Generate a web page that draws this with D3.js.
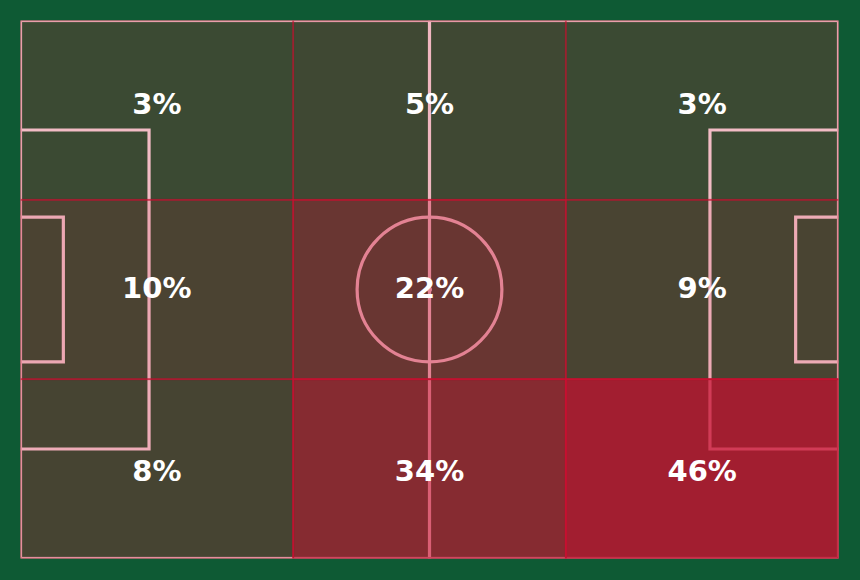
<!DOCTYPE html>
<html>
<head>
<meta charset="utf-8">
<script src="https://cdn.jsdelivr.net/npm/d3@7"></script>
<style>
  html, body { margin: 0; padding: 0; background: #0e5a34; }
  svg { display: block; }
</style>
</head>
<body>
<div id="chart"></div>
<script>
// pitch in metres (uefa 105 x 68), 3 x 3 zones
const pitchLength = 105, pitchWidth = 68
const thirds = ["Defensive third", "Middle third", "Final third"]
const channels = ["Top", "Centre", "Bottom"]
const topChannel = [3, 5, 3]
const centreChannel = [10, 22, 9]
const bottomChannel = [8, 34, 46]

const width = 860, height = 580
const svg = d3.select("#chart").append("svg").attr("width", width).attr("height", height)
svg.append("rect").attr("width", width).attr("height", height).attr("fill", "#0e5a34")

const x = d3.scaleLinear().domain([0, pitchLength]).range([20.5, 838.5])
const y = d3.scaleLinear().domain([0, pitchWidth]).range([20.5, 558.5])
// labels sit a little spread out vertically compared to the cell centres
const labelY = d3.scaleLinear().domain([0, pitchWidth]).range([12.5, 562.5])

const lineColor = "#f2bcc5"
const pitchColor = "#3b4a33"

svg.append("clipPath").attr("id", "pitch-clip")
  .append("rect").attr("x", x(0)).attr("y", y(0))
  .attr("width", x(pitchLength) - x(0)).attr("height", y(pitchWidth) - y(0))

svg.append("rect").attr("x", x(0)).attr("y", y(0))
  .attr("width", x(pitchLength) - x(0)).attr("height", y(pitchWidth) - y(0))
  .attr("fill", pitchColor)

const pitch = svg.append("g").attr("clip-path", "url(#pitch-clip)")
  .attr("fill", "none").attr("stroke", lineColor).attr("stroke-width", 3.2)

const box = (x0, x1, y0, y1) =>
  pitch.append("path").attr("d", `M${x(x0)},${y(y0)}H${x(x1)}V${y(y1)}H${x(x0)}`)

// outer boundary, half of it clipped away
pitch.append("rect").attr("x", x(0)).attr("y", y(0))
  .attr("width", x(pitchLength) - x(0)).attr("height", y(pitchWidth) - y(0))
pitch.append("line").attr("x1", x(pitchLength / 2)).attr("x2", x(pitchLength / 2))
  .attr("y1", y(0)).attr("y2", y(pitchWidth))

const penW = 40.32, penD = 16.5, sixW = 18.32, sixD = 5.5
const mid = pitchWidth / 2
box(0, penD, mid - penW / 2, mid + penW / 2)
box(0, sixD, mid - sixW / 2, mid + sixW / 2)
box(pitchLength, pitchLength - penD, mid - penW / 2, mid + penW / 2)
box(pitchLength, pitchLength - sixD, mid - sixW / 2, mid + sixW / 2)

const r = y(9.15) - y(0)
pitch.append("circle").attr("cx", x(pitchLength / 2)).attr("cy", y(mid)).attr("r", r)
pitch.append("circle").attr("cx", x(pitchLength / 2)).attr("cy", y(mid)).attr("r", 2.5)
  .attr("fill", lineColor).attr("stroke", "none")

// zones
const rows = [topChannel, centreChannel, bottomChannel]
const cells = rows.flatMap((vals, j) => vals.map((v, i) => ({ i, j, v, third: thirds[i], channel: channels[j] })))

const zx = d3.scaleBand().domain(d3.range(thirds.length)).range([0, pitchLength])
const zy = d3.scaleBand().domain(d3.range(channels.length)).range([0, pitchWidth])

const heatRed = "#c61030"
const alpha = d3.scaleLinear().domain(d3.extent(cells, d => d.v)).range([0, 0.75])
const edgeAlpha = d3.scaleLinear().domain(d3.extent(cells, d => d.v)).range([0.42, 1])

const heat = svg.append("g").attr("clip-path", "url(#pitch-clip)")
const cellRect = sel => sel
  .attr("x", d => x(zx(d.i))).attr("y", d => y(zy(d.j)))
  .attr("width", d => x(zx(d.i) + zx.bandwidth()) - x(zx(d.i)))
  .attr("height", d => y(zy(d.j) + zy.bandwidth()) - y(zy(d.j)))

heat.selectAll("rect.fill").data(cells).join("rect")
  .attr("class", "fill")
  .call(cellRect)
  .attr("fill", heatRed).attr("fill-opacity", d => alpha(d.v))

heat.selectAll("rect.edge").data(cells).join("rect")
  .attr("class", "edge")
  .call(cellRect)
  .attr("fill", "none").attr("stroke", heatRed).attr("stroke-width", 1.8)
  .attr("stroke-opacity", d => edgeAlpha(d.v))

svg.append("g").selectAll("text").data(cells).join("text")
  .attr("x", d => x(zx(d.i) + zx.bandwidth() / 2))
  .attr("y", d => labelY(zy(d.j) + zy.bandwidth() / 2))
  .attr("text-anchor", "middle")
  .attr("dominant-baseline", "central")
  .attr("fill", "#ffffff")
  .attr("font-family", "DejaVu Sans")
  .attr("font-weight", "bold")
  .attr("font-size", 29)
  .text(d => `${d.v}%`)
</script>
</body>
</html>
